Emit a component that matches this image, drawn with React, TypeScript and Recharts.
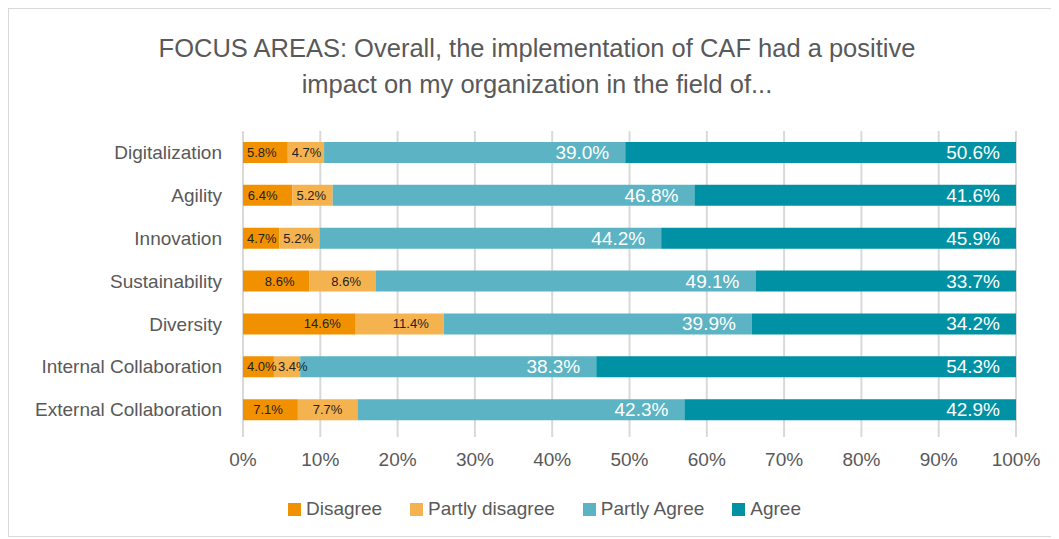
import { BarChart, Bar, XAxis, YAxis, CartesianGrid, Legend, LabelList } from "recharts"

const categories = [
  "Digitalization",
  "Agility",
  "Innovation",
  "Sustainability",
  "Diversity",
  "Internal Collaboration",
  "External Collaboration",
]
const disagree = [5.8, 6.4, 4.7, 8.6, 14.6, 4.0, 7.1]
const partlyDisagree = [4.7, 5.2, 5.2, 8.6, 11.4, 3.4, 7.7]
const partlyAgree = [39.0, 46.8, 44.2, 49.1, 39.9, 38.3, 42.3]
const agree = [50.6, 41.6, 45.9, 33.7, 34.2, 54.3, 42.9]
const xTicks = [0, 0.1, 0.2, 0.3, 0.4, 0.5, 0.6, 0.7, 0.8, 0.9, 1]

const series = [
  { key: "disagree", name: "Disagree", color: "#F29100", dark: true },
  { key: "partlyDisagree", name: "Partly disagree", color: "#F5B350", dark: true },
  { key: "partlyAgree", name: "Partly Agree", color: "#5BB3C3", dark: false },
  { key: "agree", name: "Agree", color: "#0091A4", dark: false },
]

const data = categories.map((name, i) => ({
  name,
  disagree: disagree[i],
  partlyDisagree: partlyDisagree[i],
  partlyAgree: partlyAgree[i],
  agree: agree[i],
}))

const font = "'Liberation Sans', Arial, sans-serif"

const makeLabel = (dark: boolean) => (props: any) => {
  const { x, y, width, height, value } = props
  const fs = dark ? 13 : 19
  const text = Number(value).toFixed(1) + "%"
  const tw = text.length * fs * 0.57
  const pad = dark ? 15 : 16
  const tx = Math.max(x + width - pad, x + 4 + tw)
  return (
    <text
      x={tx}
      y={y + height / 2}
      textAnchor="end"
      dominantBaseline="central"
      fontSize={fs}
      fontFamily={font}
      fill={dark ? "#222222" : "#ffffff"}
    >
      {text}
    </text>
  )
}

const renderLegend = () => (
  <div
    style={{
      display: "flex",
      justifyContent: "center",
      gap: 28,
      fontFamily: font,
      fontSize: 19,
      color: "#595959",
      paddingLeft: 64,
    }}
  >
    {series.map((s) => (
      <div key={s.key} style={{ display: "flex", alignItems: "center" }}>
        <span style={{ width: 13, height: 13, background: s.color, marginRight: 5, display: "inline-block" }} />
        {s.name}
      </div>
    ))}
  </div>
)

export default function App() {
  return (
    <div style={{ width: 1060, height: 527, border: "1px solid #d9d9d9", background: "#fff" }}>
      <BarChart
        width={1050}
        height={527}
        data={data}
        layout="vertical"
        stackOffset="expand"
        margin={{ top: 122, right: 43, bottom: 53, left: 0 }}
        barSize={21}
      >
        <text x={528} y={48} textAnchor="middle" fontSize={25.5} fill="#595959" fontFamily={font}>
          <tspan x={528} dy={0}>FOCUS AREAS: Overall, the implementation of CAF had a positive</tspan>
          <tspan x={528} dy={36}>impact on my organization in the field of...</tspan>
        </text>
        <CartesianGrid horizontal={false} stroke="#d9d9d9" strokeWidth={2} />
        <XAxis
          type="number"
          domain={[0, 1]}
          ticks={xTicks}
          tickFormatter={(v: number) => Math.round(v * 100) + "%"}
          axisLine={false}
          tickLine={{ stroke: "#d9d9d9", strokeWidth: 2 }}
          tickSize={6}
          tickMargin={16}
          tick={{ fill: "#595959", fontSize: 19, fontFamily: font }}
        />
        <YAxis
          type="category"
          dataKey="name"
          width={234}
          axisLine={false}
          tickLine={false}
          tickSize={0}
          tickMargin={21}
          tick={{ fill: "#595959", fontSize: 19, fontFamily: font }}
        />
        <Legend content={renderLegend} verticalAlign="bottom" wrapperStyle={{ bottom: 16 }} />
        {series.map((s) => (
          <Bar key={s.key} dataKey={s.key} name={s.name} stackId="a" fill={s.color} isAnimationActive={false}>
            <LabelList dataKey={s.key} content={makeLabel(s.dark)} />
          </Bar>
        ))}
      </BarChart>
    </div>
  )
}
